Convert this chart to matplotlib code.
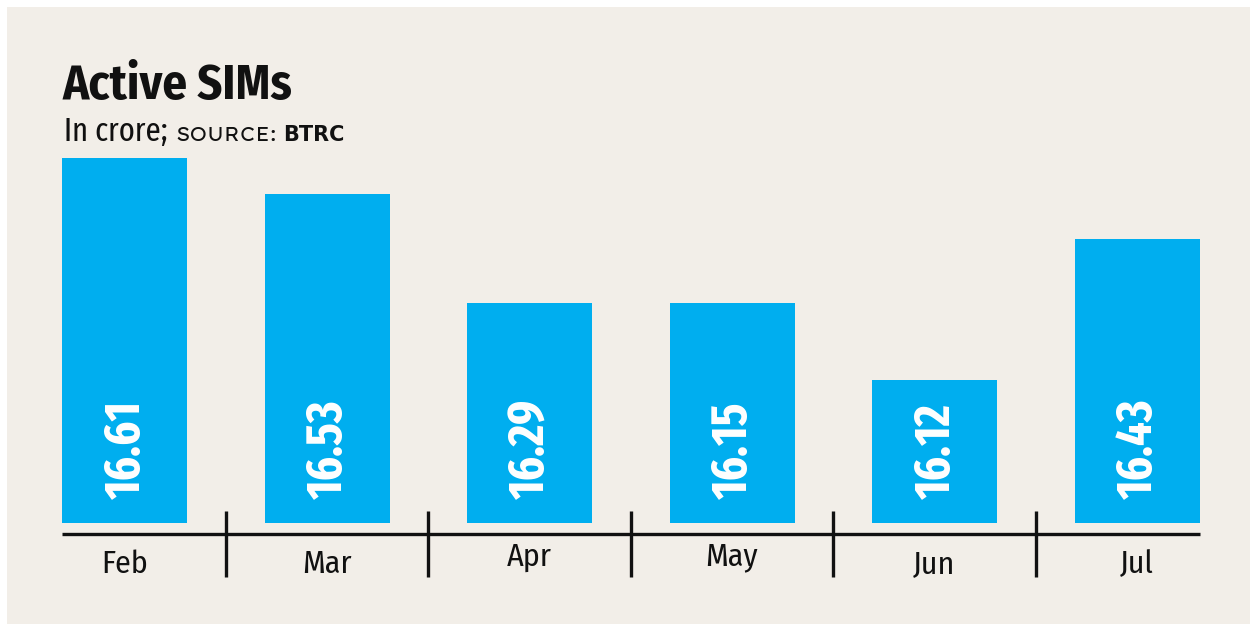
import matplotlib.pyplot as plt
from matplotlib.patches import Rectangle

months = ["Feb", "Mar", "Apr", "May", "Jun", "Jul"]
values = [16.61, 16.53, 16.29, 16.15, 16.12, 16.43]
# bar lengths as drawn in the graphic (May is drawn level with Apr)
drawn = [16.61, 16.53, 16.29, 16.29, 16.12, 16.43]

BG = "#f2eee8"
BLUE = "#00aeef"
COND = ["Fira Sans Condensed", "IBM Plex Sans Condensed", "DejaVu Sans"]
XCOND = ["Fira Sans Extra Condensed"] + COND
WIDE = ["Lexend Exa", "DejaVu Sans"]

W, H = 1250, 624
fig = plt.figure(figsize=(W / 100, H / 100), dpi=100)
fig.patch.set_facecolor("white")
fig.patches.append(Rectangle((7 / W, 0), 1, 1 - 7 / H, transform=fig.transFigure,
                             facecolor=BG, edgecolor="none", zorder=-5))

# axes: x -0.5..5.5 over px 23..1238, y base 15.804 at px 523, 453 px per crore
ybase = 15.804
k = 453.0
ax = fig.add_axes([23.25 / W, (H - 523) / H, 1215 / W, 373 / H])
ax.set_zorder(2)
ax.set_xlim(-0.5, 5.5)
ax.set_ylim(ybase, ybase + 373 / k)
ax.axis("off")

x = list(range(len(months)))
bw = 125 / 202.5
ax.bar(x, [d - ybase for d in drawn], bottom=ybase, width=bw, color=BLUE, zorder=2)

for i, v in enumerate(values):
    ax.text(i + 0.01, ybase + 24 / k, f"{v:.2f}", rotation=90, ha="center", va="bottom",
            color="white", fontsize=36, fontweight="bold", family=XCOND, zorder=3)

# baseline and separators
ax.plot([-bw / 2, 5 + bw / 2], [ybase - 11 / k] * 2, color="#111111", lw=2.4,
        clip_on=False, solid_capstyle="butt")
for s in [0.5, 1.5, 2.5, 3.5, 4.5]:
    ax.plot([s, s], [ybase + 12 / k, ybase - 54 / k], color="#111111", lw=2.4,
            clip_on=False, solid_capstyle="butt")

label_dy = [0, 0, 7, 7, 0, 0]
for i, m in enumerate(months):
    ax.text(i, ybase - (41 - label_dy[i]) / k, m, ha="center", va="center",
            fontsize=23, color="#111111", family=COND, clip_on=False)

fig.text(63 / W, 1 - 99 / H, "Active SIMs", fontsize=35, fontweight="bold",
         family=COND, color="#111111", va="baseline")
fig.text(64 / W, 1 - 141 / H, "In crore;", fontsize=24, family=XCOND,
         color="#111111", va="baseline")
fig.text(175 / W, 1 - 141 / H, "SOURCE:", fontsize=14, family=WIDE,
         color="#111111", va="baseline")
fig.text(283 / W, 1 - 141 / H, "BTRC", fontsize=15, fontweight="bold",
         family="DejaVu Sans", color="#111111", va="baseline")

fig.savefig("out.png", dpi=100, facecolor=fig.get_facecolor())
